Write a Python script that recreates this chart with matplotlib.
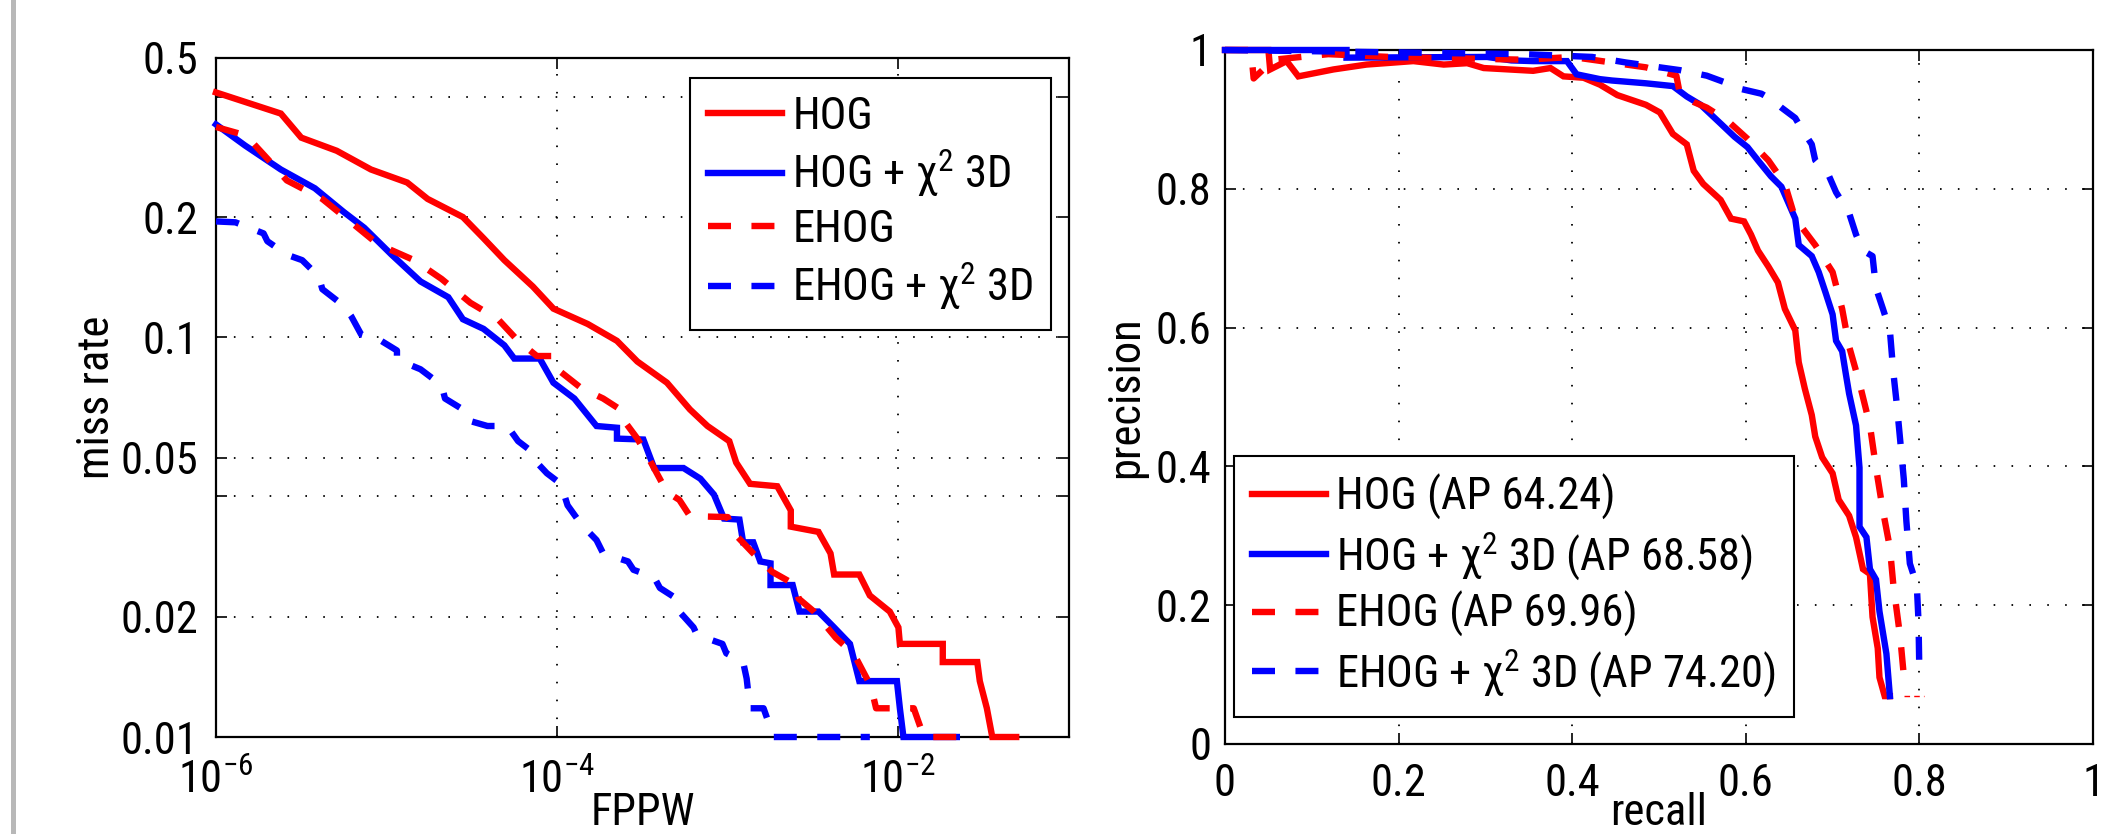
import matplotlib
matplotlib.use('Agg')
import matplotlib.pyplot as plt
import matplotlib.font_manager as fm
from matplotlib.ticker import NullLocator, FixedLocator, FixedFormatter
from matplotlib.patches import Rectangle

_avail = {f.name for f in fm.fontManager.ttflist}
if 'Roboto Condensed' in _avail:
    FONT, FS = 'Roboto Condensed', 32
else:
    FONT, FS = 'Liberation Sans', 27
plt.rcParams['font.family'] = [FONT, 'Liberation Sans', 'DejaVu Sans']
plt.rcParams['mathtext.fontset'] = 'custom'
plt.rcParams['mathtext.rm'] = FONT
plt.rcParams['mathtext.it'] = FONT + ':italic'

# ---------------- data: miss rate vs FPPW ----------------
series_names = ['HOG', 'HOG + χ$^2$ 3D', 'EHOG', 'EHOG + χ$^2$ 3D']
ap_values = ['64.24', '68.58', '69.96', '74.20']

hog_fppw = [1.0e-6, 2.4e-6, 3.16e-6, 5.1e-6, 8.1e-6, 1.32e-5, 1.74e-5, 2.8e-5, 3.7e-5,
            4.9e-5, 7.2e-5, 9.5e-5, 1.51e-4, 2.24e-4, 2.95e-4, 4.4e-4, 6.0e-4, 7.6e-4,
            1.02e-3, 1.12e-3, 1.35e-3, 1.95e-3, 2.34e-3, 2.34e-3, 3.4e-3, 4.0e-3, 4.2e-3,
            5.9e-3, 6.8e-3, 8.9e-3, 1.0e-2, 1.02e-2, 1.82e-2, 1.82e-2, 2.9e-2, 3.0e-2,
            3.3e-2, 3.55e-2, 4.9e-2]
hog_miss = [0.41, 0.363, 0.316, 0.293, 0.263, 0.244, 0.222, 0.2, 0.177,
            0.156, 0.134, 0.118, 0.108, 0.098, 0.087, 0.077, 0.066, 0.060,
            0.055, 0.0486, 0.043, 0.0424, 0.0369, 0.0336, 0.0326, 0.0288, 0.0255,
            0.0255, 0.0226, 0.0206, 0.0188, 0.0171, 0.0171, 0.0154, 0.0154, 0.0138,
            0.0118, 0.0100, 0.0100]

hogx_fppw = [1.0e-6, 1.48e-6, 2.4e-6, 3.8e-6, 5.6e-6, 7.4e-6, 1.07e-5, 1.58e-5, 2.3e-5,
             2.8e-5, 3.7e-5, 4.9e-5, 5.6e-5, 7.9e-5, 9.5e-5, 1.26e-4, 1.7e-4, 2.24e-4,
             2.24e-4, 3.2e-4, 3.7e-4, 5.5e-4, 6.9e-4, 8.3e-4, 9.5e-4, 1.17e-3, 1.23e-3,
             1.41e-3, 1.55e-3, 1.78e-3, 1.78e-3, 2.4e-3, 2.63e-3, 3.4e-3, 4.2e-3, 5.2e-3,
             5.9e-3, 9.8e-3, 1.02e-2, 1.07e-2, 2.2e-2]
hogx_miss = [0.341, 0.302, 0.263, 0.236, 0.206, 0.188, 0.161, 0.138, 0.126,
             0.111, 0.105, 0.0955, 0.0885, 0.0885, 0.077, 0.0703, 0.060, 0.0594,
             0.0558, 0.0555, 0.0471, 0.0471, 0.0443, 0.0404, 0.0352, 0.035, 0.0307,
             0.0307, 0.0275, 0.0272, 0.024, 0.024, 0.0206, 0.0206, 0.0188, 0.0171,
             0.0138, 0.0138, 0.0118, 0.0100, 0.0100]

ehog_fppw = [1.0e-6, 1.5e-6, 2.0e-6, 2.6e-6, 4.2e-6, 6.2e-6, 8.9e-6, 1.45e-5, 2.1e-5,
             3.1e-5, 4.5e-5, 5.9e-5, 7.6e-5, 9.5e-5, 1.05e-4, 1.38e-4, 1.86e-4, 2.34e-4,
             2.45e-4, 2.95e-4, 3.55e-4, 4.4e-4, 5.2e-4, 6.0e-4, 1.0e-3, 1.07e-3, 1.41e-3,
             1.82e-3, 2.5e-3, 2.6e-3, 3.2e-3, 4.3e-3, 5.5e-3, 6.9e-3, 7.4e-3, 1.23e-2,
             1.41e-2, 2.4e-2]
ehog_miss = [0.336, 0.32, 0.28, 0.247, 0.222, 0.194, 0.171, 0.156, 0.140,
             0.122, 0.111, 0.098, 0.0898, 0.0898, 0.0819, 0.0747, 0.0703, 0.066,
             0.0621, 0.0558, 0.0486, 0.041, 0.0392, 0.0357, 0.0355, 0.0326, 0.0288,
             0.0259, 0.024, 0.0222, 0.0206, 0.0177, 0.0161, 0.0134, 0.0118, 0.0118,
             0.0100, 0.0100]

ehogx_fppw = [1.0e-6, 1.3e-6, 1.9e-6, 2.0e-6, 2.6e-6, 3.2e-6, 4.0e-6, 4.2e-6, 5.6e-6,
              6.2e-6, 7.1e-6, 9.3e-6, 1.15e-5, 1.15e-5, 1.58e-5, 2.1e-5, 2.2e-5, 2.8e-5,
              2.95e-5, 3.9e-5, 5.1e-5, 5.9e-5, 6.8e-5, 7.6e-5, 8.7e-5, 1.05e-4, 1.15e-4,
              1.38e-4, 1.7e-4, 1.86e-4, 2.6e-4, 2.8e-4, 3.7e-4, 4.0e-4, 5.0e-4, 5.2e-4,
              6.3e-4, 6.6e-4, 9.3e-4, 9.8e-4, 1.23e-3, 1.29e-3, 1.35e-3, 1.62e-3, 1.86e-3,
              6.8e-3]
ehogx_miss = [0.195, 0.194, 0.182, 0.174, 0.161, 0.156, 0.142, 0.132, 0.120,
              0.113, 0.1016, 0.098, 0.0927, 0.088, 0.0832, 0.0759, 0.0703, 0.066,
              0.0621, 0.060, 0.060, 0.055, 0.0525, 0.0486, 0.0457, 0.043, 0.038,
              0.0341, 0.0311, 0.0288, 0.0275, 0.0262, 0.0251, 0.0236, 0.0222, 0.0206,
              0.0188, 0.018, 0.0171, 0.0162, 0.0154, 0.014, 0.0118, 0.0118, 0.0100,
              0.0100]

# ---------------- data: precision vs recall ----------------
hog_recall = [0, 0.05, 0.052, 0.071, 0.0845, 0.125, 0.163, 0.217, 0.252, 0.279, 0.298,
              0.355, 0.375, 0.390, 0.413, 0.432, 0.452, 0.485, 0.501, 0.516, 0.532,
              0.540, 0.551, 0.571, 0.583, 0.598, 0.606, 0.614, 0.626, 0.637, 0.645,
              0.657, 0.661, 0.668, 0.676, 0.680, 0.688, 0.700, 0.707, 0.719, 0.727,
              0.735, 0.743, 0.746, 0.752, 0.754, 0.760, 0.766]
hog_prec = [1.0, 1.0, 0.972, 0.984, 0.962, 0.972, 0.979, 0.984, 0.979, 0.981, 0.974,
            0.970, 0.974, 0.962, 0.960, 0.950, 0.935, 0.921, 0.910, 0.879, 0.864,
            0.826, 0.807, 0.784, 0.757, 0.753, 0.734, 0.711, 0.688, 0.665, 0.627,
            0.596, 0.550, 0.512, 0.474, 0.443, 0.413, 0.390, 0.352, 0.329, 0.298,
            0.252, 0.245, 0.183, 0.138, 0.096, 0.069, 0.069]

hogx_recall = [0, 0.14, 0.14, 0.302, 0.33, 0.355, 0.394, 0.405, 0.432, 0.446, 0.485,
               0.516, 0.532, 0.548, 0.571, 0.587, 0.602, 0.614, 0.629, 0.641, 0.649,
               0.657, 0.661, 0.676, 0.684, 0.692, 0.700, 0.704, 0.711, 0.715, 0.719,
               0.727, 0.731, 0.731, 0.739, 0.743, 0.750, 0.754, 0.762, 0.766]
hogx_prec = [1.0, 1.0, 0.989, 0.99, 0.985, 0.984, 0.984, 0.965, 0.958, 0.956, 0.952,
             0.948, 0.933, 0.921, 0.894, 0.875, 0.860, 0.841, 0.818, 0.803, 0.780,
             0.757, 0.719, 0.703, 0.680, 0.650, 0.619, 0.581, 0.566, 0.535, 0.505,
             0.459, 0.398, 0.313, 0.298, 0.252, 0.237, 0.191, 0.130, 0.069]

ehog_recall = [0, 0.03, 0.033, 0.056, 0.119, 0.189, 0.345, 0.40, 0.485, 0.520, 0.524,
               0.540, 0.555, 0.579, 0.602, 0.626, 0.645, 0.657, 0.680, 0.700, 0.711,
               0.719, 0.731, 0.743, 0.750, 0.758, 0.766, 0.770, 0.778, 0.782]
ehog_prec = [1.0, 1.0, 0.959, 0.986, 0.994, 0.990, 0.986, 0.99, 0.975, 0.963, 0.937,
             0.925, 0.917, 0.898, 0.872, 0.841, 0.807, 0.757, 0.719, 0.680, 0.627,
             0.573, 0.520, 0.459, 0.398, 0.336, 0.283, 0.229, 0.153, 0.099]

ehogx_recall = [0, 0.345, 0.423, 0.462, 0.501, 0.524, 0.555, 0.579, 0.594, 0.618, 0.629,
                0.641, 0.657, 0.664, 0.676, 0.680, 0.696, 0.704, 0.719, 0.727, 0.735,
                0.746, 0.750, 0.758, 0.766, 0.770, 0.774, 0.778, 0.782, 0.785, 0.789,
                0.797, 0.799, 0.800]
ehogx_prec = [1.0, 0.994, 0.99, 0.982, 0.975, 0.971, 0.963, 0.952, 0.944, 0.937, 0.929,
              0.917, 0.902, 0.887, 0.864, 0.841, 0.818, 0.795, 0.765, 0.734, 0.711,
              0.703, 0.657, 0.627, 0.596, 0.535, 0.489, 0.436, 0.382, 0.321, 0.260,
              0.229, 0.176, 0.10]

tail_recall = [0.782, 0.805]
tail_prec = [0.069, 0.069]

miss_ticks = [0.01, 0.02, 0.04, 0.05, 0.1, 0.2, 0.4, 0.5]
miss_labels = ['0.01', '0.02', '', '0.05', '0.1', '0.2', '', '0.5']
fppw_ticks = [1e-6, 1e-4, 1e-2]
pr_ticks = [0, 0.2, 0.4, 0.6, 0.8, 1.0]
pr_labels = ['0', '0.2', '0.4', '0.6', '0.8', '1']

# ---------------- styling ----------------
RED, BLUE = '#ff0000', '#0000ff'
LW = 4.6
DASH = (3.6, 3.2)
styles = [dict(color=RED, ls='-'), dict(color=BLUE, ls='-'),
          dict(color=RED, dashes=DASH), dict(color=BLUE, dashes=DASH)]

W, H = 2112, 834
fig = plt.figure(figsize=(W / 100, H / 100), dpi=100)
fig.patch.set_facecolor('white')

# slide decoration: grey bar at left edge
fig.add_artist(Rectangle((11 / W, 0), 5 / W, 1, transform=fig.transFigure,
                         facecolor='#b8b8b8', edgecolor='none'))

ax1 = fig.add_axes([216 / W, 1 - 737 / H, 853 / W, 679 / H])
ax2 = fig.add_axes([1225 / W, 1 - 744 / H, 868 / W, 694 / H])

def style_axes(ax, xpad, ypad):
    for s in ax.spines.values():
        s.set_linewidth(1.6)
        s.set_color('black')
    ax.tick_params(which='both', direction='in', top=True, right=True,
                   length=8, width=1.2, labelsize=FS, colors='black')
    ax.tick_params(axis='y', pad=ypad)
    ax.tick_params(axis='x', pad=xpad)
    ax.grid(True, which='major', color='black', linewidth=1.3,
            linestyle=(0, (0.9, 9.0)))
    ax.set_axisbelow(True)

leg_kw = dict(fontsize=FS, frameon=True, fancybox=False, framealpha=1,
              edgecolor='black', handlelength=74 / (FS * 100 / 72),
              handletextpad=0.24, labelspacing=0.22, borderpad=0.4,
              borderaxespad=0)

# left plot
ax1.set_xscale('log')
ax1.set_yscale('log')
left_data = [(hog_fppw, hog_miss), (hogx_fppw, hogx_miss),
             (ehog_fppw, ehog_miss), (ehogx_fppw, ehogx_miss)]
for (x, y), st, name in zip(left_data, styles, series_names):
    ax1.plot(x, y, lw=LW, label=name, clip_on=False, zorder=3,
             solid_joinstyle='miter', **st)
ax1.set_xlim(1e-6, 1e-1)
ax1.set_ylim(0.01, 0.5)
ax1.xaxis.set_major_locator(FixedLocator(fppw_ticks))
ax1.xaxis.set_minor_locator(NullLocator())
ax1.yaxis.set_major_locator(FixedLocator(miss_ticks))
ax1.yaxis.set_major_formatter(FixedFormatter(miss_labels))
ax1.yaxis.set_minor_locator(NullLocator())
style_axes(ax1, 16, 13)
ax1.set_xlabel('FPPW', fontsize=FS)
ax1.set_ylabel('miss rate', fontsize=FS)
ax1.xaxis.set_label_coords(0.5, -(792 - 737) / 679)
ax1.yaxis.set_label_coords(-(216 - 118) / 853, 0.5)
leg1 = ax1.legend(loc='upper right', bbox_to_anchor=(0.979, 0.9705), **leg_kw)
leg1.get_frame().set_linewidth(1.5)

# right plot
right_data = [(hog_recall, hog_prec), (hogx_recall, hogx_prec),
              (ehog_recall, ehog_prec), (ehogx_recall, ehogx_prec)]
for (x, y), st, name, ap in zip(right_data, styles, series_names, ap_values):
    ax2.plot(x, y, lw=LW, label=f'{name} (AP {ap})', clip_on=False, zorder=3,
             solid_joinstyle='miter', **st)
ax2.plot(tail_recall, tail_prec, color=RED, lw=1.0, dashes=(4, 3), zorder=3)
ax2.set_xlim(0, 1)
ax2.set_ylim(0, 1)
ax2.xaxis.set_major_locator(FixedLocator(pr_ticks))
ax2.xaxis.set_major_formatter(FixedFormatter(pr_labels))
ax2.yaxis.set_major_locator(FixedLocator(pr_ticks))
ax2.yaxis.set_major_formatter(FixedFormatter(pr_labels))
style_axes(ax2, 14, 10)
ax2.set_xlabel('recall', fontsize=FS)
ax2.set_ylabel('precision', fontsize=FS)
ax2.xaxis.set_label_coords(0.5, -(792 - 744) / 694)
ax2.yaxis.set_label_coords(-0.09, 0.5)
leg2 = ax2.legend(loc='lower left', bbox_to_anchor=(0.0104, 0.039), **leg_kw)
leg2.get_frame().set_linewidth(1.5)

fig.savefig('out.png', dpi=100, facecolor='white')
